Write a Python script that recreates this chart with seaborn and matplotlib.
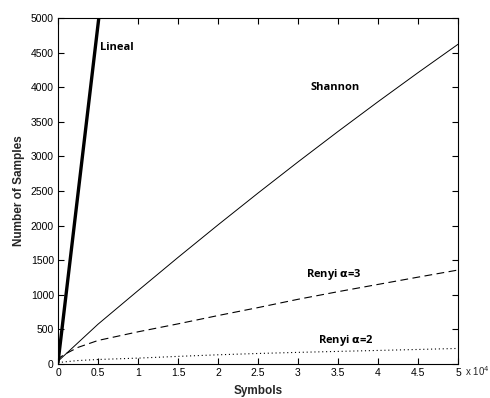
import numpy as np
import pandas as pd
import matplotlib
matplotlib.use("Agg")
import matplotlib.pyplot as plt
import matplotlib.transforms as mtransforms
import seaborn as sns

# Data (symbols, samples)
lineal_x = [0, 5100]
lineal_y = [20, 5000]

shannon_x = [0, 5000, 10000, 15000, 20000, 25000, 30000, 35000, 40000, 45000, 50000]
shannon_y = [40, 575, 1060, 1540, 2010, 2470, 2920, 3360, 3790, 4210, 4620]

renyi3_x = [0, 300, 1000, 2500, 5000, 10000, 15000, 20000, 25000, 30000, 35000, 40000, 45000, 50000]
renyi3_y = [40, 100, 150, 240, 340, 465, 580, 700, 815, 935, 1045, 1150, 1255, 1358]

renyi2_x = [0, 1000, 2500, 5000, 10000, 15000, 20000, 25000, 30000, 35000, 40000, 45000, 50000]
renyi2_y = [20, 33, 50, 65, 85, 110, 133, 152, 168, 182, 196, 210, 225]

xtick_vals = [0, 5000, 10000, 15000, 20000, 25000, 30000, 35000, 40000, 45000, 50000]
xtick_labels = ["0", "0.5", "1", "1.5", "2", "2.5", "3", "3.5", "4", "4.5", "5"]
ytick_vals = [0, 500, 1000, 1500, 2000, 2500, 3000, 3500, 4000, 4500, 5000]

sns.set_style("ticks")
plt.rcParams['font.family'] = ['Liberation Sans', 'DejaVu Sans']

fig = plt.figure(figsize=(4.9, 3.98), dpi=100)
ax = fig.add_axes([58/490, 34/398, 400/490, 346/398])

sns.lineplot(x=lineal_x, y=lineal_y, ax=ax, color='black', linewidth=2.4)
sns.lineplot(x=shannon_x, y=shannon_y, ax=ax, color='black', linewidth=0.7)
sns.lineplot(x=renyi3_x, y=renyi3_y, ax=ax, color='black', linewidth=0.8, linestyle=(0, (7, 4)))
sns.lineplot(x=renyi2_x, y=renyi2_y, ax=ax, color='black', linewidth=0.8, linestyle=(0, (1, 2.5)))

ax.set_xlim(0, 50000)
ax.set_ylim(0, 5000)
ax.set_xticks(xtick_vals)
ax.set_xticklabels(xtick_labels)
ax.set_yticks(ytick_vals)
ax.tick_params(direction='in', top=True, right=True, length=4, width=0.8,
               labelsize=7.5, colors='black', pad=3)
for s in ax.spines.values():
    s.set_visible(True)
    s.set_color('black')
    s.set_linewidth(0.8)

ax.set_xlabel("Symbols", fontsize=8.5, fontweight='bold', labelpad=5)
ax.set_ylabel("Number of Samples", fontsize=8.5, fontweight='bold', labelpad=4)

off = mtransforms.offset_copy(ax.transAxes, fig=fig, x=0, y=-8.6, units='points')
ax.text(1.0175, 0, "x 10$^4$", transform=off, fontsize=7, ha='left', va='baseline')

lab = dict(fontsize=8, fontweight='bold', family=['Open Sans', 'DejaVu Sans'], color='black')
ax.text(5300, 4570, "Lineal", **lab, va='center')
ax.text(31500, 3990, "Shannon", **lab, va='center')
ax.text(31000, 1300, r"Renyi $\mathbf{\alpha}$=3", **lab, va='center')
ax.text(32500, 345, r"Renyi $\mathbf{\alpha}$=2", **lab, va='center')

fig.savefig("out.png", dpi=100)
